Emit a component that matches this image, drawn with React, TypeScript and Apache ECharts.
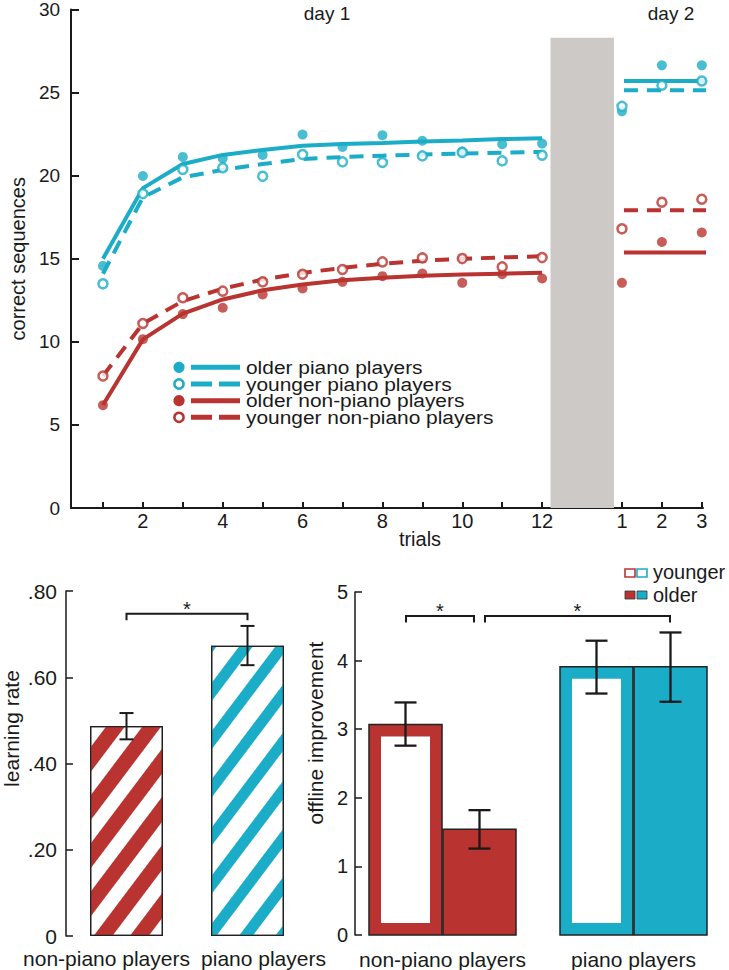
import React, { useEffect, useRef } from 'react';
import * as echarts from 'echarts';

const CYAN = '#1BADC7';
const RED = '#B93430';
const INK = '#1a1a1a';
const GRAY = '#CCC9C7';
const FONT = '"Liberation Sans", Arial, sans-serif';

// ---------- top chart data ----------
const day1Trials = [1, 2, 3, 4, 5, 6, 7, 8, 9, 10, 11, 12];
const day2Sessions = [1, 2, 3];
const DAY2_OFFSET = 13; // axis slot taken by the 24h consolidation gap
const xTickValues = [1, 2, 3, 4, 5, 6, 7, 8, 9, 10, 11, 12, 13, 14, 15, 16];
const xLabelValues = [2, 4, 6, 8, 10, 12, 14, 15, 16];
const yTickValues = [0, 5, 10, 15, 20, 25, 30];

const olderPianoDay1 = [14.57, 19.98, 21.13, 21.03, 21.25, 22.47, 21.73, 22.43, 22.1, 21.45, 21.89, 21.93];
const olderPianoDay2 = [23.87, 26.64, 26.64];
const youngerPianoDay1 = [13.49, 18.92, 20.37, 20.47, 19.96, 21.27, 20.83, 20.79, 21.19, 21.4, 20.89, 21.23];
const youngerPianoDay2 = [24.17, 25.44, 25.7];
const olderNonPianoDay1 = [6.19, 10.16, 11.67, 12.05, 12.85, 13.21, 13.61, 13.95, 14.11, 13.55, 14.07, 13.81];
const olderNonPianoDay2 = [13.55, 16.01, 16.58];
const youngerNonPianoDay1 = [7.94, 11.1, 12.65, 13.05, 13.61, 14.07, 14.35, 14.81, 15.05, 15.01, 14.51, 15.07];
const youngerNonPianoDay2 = [16.8, 18.4, 18.58];

const olderPianoFit = [15.0, 19.25, 20.7, 21.25, 21.55, 21.8, 21.9, 21.97, 22.05, 22.12, 22.2, 22.25];
const youngerPianoFit = [14.1, 18.7, 19.9, 20.35, 20.7, 21.0, 21.12, 21.2, 21.27, 21.33, 21.38, 21.43];
const olderNonPianoFit = [6.2, 10.15, 11.7, 12.55, 13.1, 13.45, 13.7, 13.85, 13.97, 14.05, 14.1, 14.15];
const youngerNonPianoFit = [7.95, 11.1, 12.45, 13.2, 13.75, 14.15, 14.45, 14.7, 14.88, 15.0, 15.08, 15.15];
const olderPianoDay2Fit = 25.7;
const youngerPianoDay2Fit = 25.14;
const olderNonPianoDay2Fit = 15.37;
const youngerNonPianoDay2Fit = 17.92;

const legendNames = ['older piano players', 'younger piano players', 'older non-piano players', 'younger non-piano players'];

// ---------- bottom charts data ----------
const groups = ['non-piano players', 'piano players'];
const learningRate = [0.487, 0.673];
const learningRateErr = [[0.456, 0.517], [0.628, 0.719]];
const learningBracketY = 0.747;

const offlineYounger = [3.07, 3.91];
const offlineOlder = [1.54, 3.91];
const offlineYoungerErr = [[2.76, 3.39], [3.52, 4.29]];
const offlineOlderErr = [[1.26, 1.82], [3.40, 4.41]];
const offlineBracketY = 4.65;

const groupColors = [RED, CYAN];

function buildOption() {
  const topGroups = [
    { color: CYAN, open: false, d1: olderPianoDay1, d2: olderPianoDay2, fit: olderPianoFit, fit2: olderPianoDay2Fit },
    { color: CYAN, open: true, d1: youngerPianoDay1, d2: youngerPianoDay2, fit: youngerPianoFit, fit2: youngerPianoDay2Fit },
    { color: RED, open: false, d1: olderNonPianoDay1, d2: olderNonPianoDay2, fit: olderNonPianoFit, fit2: olderNonPianoDay2Fit },
    { color: RED, open: true, d1: youngerNonPianoDay1, d2: youngerNonPianoDay2, fit: youngerNonPianoFit, fit2: youngerNonPianoDay2Fit },
  ];

  const series: any[] = [];

  // consolidation band
  series.push({
    type: 'line', xAxisIndex: 0, yAxisIndex: 0, data: [], silent: true, z: 1,
    markArea: {
      silent: true,
      itemStyle: { color: GRAY },
      data: [[{ xAxis: 12.21, yAxis: 0 }, { xAxis: 13.8, yAxis: 28.3 }]],
    },
  });

  topGroups.forEach((g) => {
    series.push({
      type: 'line', xAxisIndex: 0, yAxisIndex: 0, symbol: 'none', clip: false, z: 2,
      connectNulls: false,
      lineStyle: { color: g.color, width: 4, type: g.open ? [14, 9] : 'solid', cap: 'butt' },
      data: [
        ...day1Trials.map((t, i) => [t, g.fit[i]]),
        [DAY2_OFFSET, null],
        [DAY2_OFFSET + day2Sessions[0] + 0.05, g.fit2],
        [DAY2_OFFSET + day2Sessions[2] + 0.15, g.fit2],
      ],
    });
  });

  topGroups.forEach((g) => {
    series.push({
      type: 'scatter', xAxisIndex: 0, yAxisIndex: 0, z: 3,
      symbol: 'circle', symbolSize: g.open ? 9 : 10,
      itemStyle: g.open
        ? { color: '#ffffff', borderColor: g.color, borderWidth: 2.5 }
        : { color: g.color },
      data: [
        ...day1Trials.map((t, i) => [t, g.d1[i]]),
        ...day2Sessions.map((s, i) => [DAY2_OFFSET + s, g.d2[i]]),
      ],
    });
  });

  // ---- bottom-left: learning rate (striped bars)
  series.push({
    type: 'bar', xAxisIndex: 1, yAxisIndex: 1, barWidth: 73, z: 2,
    data: learningRate.map((v, i) => ({
      value: v,
      itemStyle: {
        color: '#ffffff',
        borderColor: '#222',
        borderWidth: 1.3,
        decal: {
          symbol: 'rect',
          symbolSize: 1,
          dashArrayX: [1, 0],
          dashArrayY: i === 0 ? [15, 14] : [11, 18],
          rotation: (-53 * Math.PI) / 180,
          color: groupColors[i],
        },
      },
    })),
  });

  const errorBars = (xi: number, yi: number, data: number[][], offset: number, capW: number, lw: number) => ({
    type: 'custom', xAxisIndex: xi, yAxisIndex: yi, z: 10, silent: true,
    data: data.map((d, i) => [i, d[0], d[1]]),
    renderItem: (_p: any, api: any) => {
      const lo = api.coord([api.value(0), api.value(1)]);
      const hi = api.coord([api.value(0), api.value(2)]);
      const x = lo[0] + offset;
      const style = { stroke: INK, lineWidth: lw };
      return {
        type: 'group',
        children: [
          { type: 'line', shape: { x1: x, y1: lo[1], x2: x, y2: hi[1] }, style },
          { type: 'line', shape: { x1: x - capW / 2, y1: lo[1], x2: x + capW / 2, y2: lo[1] }, style },
          { type: 'line', shape: { x1: x - capW / 2, y1: hi[1], x2: x + capW / 2, y2: hi[1] }, style },
        ],
      };
    },
  });

  series.push(errorBars(1, 1, learningRateErr, 0, 14, 2));

  const bracketSeries = (xi: number, yi: number, data: number[][], offsets: number[][]) => ({
    type: 'custom', xAxisIndex: xi, yAxisIndex: yi, z: 10, silent: true, clip: false,
    data,
    renderItem: (p: any, api: any) => {
      const a = api.coord([api.value(0), api.value(2)]);
      const b = api.coord([api.value(1), api.value(2)]);
      const off = offsets[p.dataIndex];
      const x1 = a[0] + off[0];
      const x2 = b[0] + off[1];
      const y = a[1];
      return {
        type: 'group',
        children: [
          {
            type: 'polyline',
            shape: { points: [[x1, y + 6.5], [x1, y], [x2, y], [x2, y + 6.5]] },
            style: { stroke: INK, lineWidth: 2, fill: 'none' },
          },
          {
            type: 'text',
            style: {
              text: '*', x: (x1 + x2) / 2, y: y - 5, align: 'center', verticalAlign: 'middle',
              fontSize: 20, fontFamily: FONT, fill: INK,
            },
          },
        ],
      };
    },
  });

  series.push(bracketSeries(1, 1, [[0, 1, learningBracketY]], [[0, 0]]));

  // ---- bottom-right: offline improvement
  const BW = 73;
  const barSeries = (values: number[], offset: number, younger: boolean) => ({
    type: 'custom', xAxisIndex: 2, yAxisIndex: 2, z: 2, silent: true,
    data: values.map((v, i) => [i, v]),
    renderItem: (_p: any, api: any) => {
      const cat = api.value(0);
      const top = api.coord([cat, api.value(1)]);
      const base = api.coord([cat, 0]);
      const x = top[0] + offset - BW / 2;
      const h = base[1] - top[1];
      const col = groupColors[cat];
      const children: any[] = [
        { type: 'rect', shape: { x, y: top[1], width: BW, height: h }, style: { fill: col, stroke: '#222', lineWidth: 1.5 } },
      ];
      if (younger) {
        children.push({ type: 'rect', shape: { x: x + 12, y: top[1] + 12, width: BW - 24, height: h - 24 }, style: { fill: '#ffffff' } });
      }
      return { type: 'group', children };
    },
  });
  series.push(barSeries(offlineYounger, -37, true));
  series.push(barSeries(offlineOlder, 37, false));
  series.push(errorBars(2, 2, offlineYoungerErr, -37, 22, 2.3));
  series.push(errorBars(2, 2, offlineOlderErr, 37, 22, 2.3));
  series.push(bracketSeries(2, 2, [[0, 0, offlineBracketY], [0, 1, offlineBracketY]], [[-36.5, 31.5], [42.5, 36.5]]));

  // ---- graphic: legends and annotations
  const legendRows = [367.3, 384, 400.7, 417.3];
  const legendGraphic: any[] = [];
  topGroups.forEach((g, i) => {
    const y = legendRows[i];
    legendGraphic.push(
      g.open
        ? { type: 'circle', shape: { cx: 179, cy: y, r: 4.6 }, style: { fill: '#fff', stroke: g.color, lineWidth: 2.5 } }
        : { type: 'circle', shape: { cx: 179, cy: y, r: 5.6 }, style: { fill: g.color } }
    );
    legendGraphic.push({
      type: 'line', shape: { x1: 191, y1: y, x2: 240, y2: y },
      style: { stroke: g.color, lineWidth: 5, lineDash: g.open ? [21, 7] : null },
    });
    legendGraphic.push({
      type: 'text', x: 246, y, scaleX: 1.1,
      style: { text: legendNames[i], fontSize: 19, fontFamily: FONT, fill: INK, verticalAlign: 'middle', align: 'left' },
    });
  });

  const textG = (text: string, x: number, y: number, fontSize: number, extra: any = {}) => ({
    type: 'text', x, y, ...extra,
    style: { text, fontSize, fontFamily: FONT, fill: INK, align: 'center', verticalAlign: 'middle' },
  });

  const ageLegend: any[] = [
    { type: 'rect', shape: { x: 625, y: 569, width: 10, height: 8 }, style: { fill: '#fff', stroke: RED, lineWidth: 1.6 } },
    { type: 'rect', shape: { x: 637, y: 569, width: 10, height: 8 }, style: { fill: '#fff', stroke: CYAN, lineWidth: 1.6 } },
    { type: 'rect', shape: { x: 625, y: 591, width: 10, height: 8 }, style: { fill: RED, stroke: '#333', lineWidth: 0.8 } },
    { type: 'rect', shape: { x: 637, y: 591, width: 10, height: 8 }, style: { fill: CYAN, stroke: '#333', lineWidth: 0.8 } },
    { type: 'text', x: 653, y: 572, style: { text: 'younger', fontSize: 20, fontFamily: FONT, fill: INK, verticalAlign: 'middle', align: 'left' } },
    { type: 'text', x: 653, y: 595, style: { text: 'older', fontSize: 20, fontFamily: FONT, fill: INK, verticalAlign: 'middle', align: 'left' } },
  ];

  const axisLine = (w: number) => ({ show: true, lineStyle: { color: INK, width: w } });

  return {
    animation: false,
    backgroundColor: '#ffffff',
    textStyle: { fontFamily: FONT },
    grid: [
      { left: 64, right: 26, top: 9, bottom: 462 },
      { left: 64, width: 244, top: 591, bottom: 34 },
      { left: 347, width: 388, top: 592, bottom: 33 },
    ],
    xAxis: [
      {
        type: 'value', gridIndex: 0, min: 0.2, max: 16.03,
        axisLine: axisLine(2),
        splitLine: { show: false },
        axisTick: { show: true, inside: true, length: 6, lineStyle: { color: INK, width: 2 }, customValues: xTickValues },
        axisLabel: {
          customValues: xLabelValues, margin: 3, fontSize: 20, color: INK, fontFamily: FONT,
          formatter: (v: number) => String(v > DAY2_OFFSET ? v - DAY2_OFFSET : v),
        },
      },
      {
        type: 'category', gridIndex: 1,
        data: [
          { value: groups[0], textStyle: { padding: [0, 40, 0, 0] } },
          { value: groups[1], textStyle: { padding: [0, 0, 0, 32] } },
        ],
        axisLine: { show: false }, axisTick: { show: false },
        axisLabel: { fontSize: 21, color: INK, margin: 12, fontFamily: FONT, interval: 0 },
      },
      {
        type: 'category', gridIndex: 2, data: groups,
        axisLine: { show: false }, axisTick: { show: false },
        axisLabel: { fontSize: 21, color: INK, margin: 14, fontFamily: FONT, interval: 0 },
      },
    ],
    yAxis: [
      {
        type: 'value', gridIndex: 0, min: 0, max: 30, interval: 5,
        name: 'correct sequences', nameLocation: 'middle', nameGap: 38,
        nameTextStyle: { fontSize: 20, color: INK, fontFamily: FONT },
        axisLine: axisLine(2), splitLine: { show: false },
        axisTick: { show: true, inside: true, length: 8, lineStyle: { color: INK, width: 2 }, customValues: yTickValues },
        axisLabel: { fontSize: 19, color: INK, margin: 11, fontFamily: FONT },
      },
      {
        type: 'value', gridIndex: 1, min: 0, max: 0.8, interval: 0.2,
        name: 'learning rate', nameLocation: 'middle', nameGap: 44,
        nameTextStyle: { fontSize: 21, color: INK, fontFamily: FONT, padding: [0, 0, 0, 70] },
        axisLine: axisLine(1.5), splitLine: { show: false },
        axisTick: { show: true, inside: true, length: 7, lineStyle: { color: INK, width: 1.5 } },
        axisLabel: {
          fontSize: 21, color: INK, margin: 9, fontFamily: FONT,
          formatter: (v: number) => (v === 0 ? '0' : v.toFixed(2).replace(/^0/, '')),
        },
      },
      {
        type: 'value', gridIndex: 2, min: 0, max: 5, interval: 1, offset: -8,
        name: 'offline improvement', nameLocation: 'middle', nameGap: 26,
        nameTextStyle: { fontSize: 21, color: INK, fontFamily: FONT, padding: [0, 0, 0, 61] },
        axisLine: axisLine(1.5), splitLine: { show: false },
        axisTick: { show: true, inside: true, length: 7, lineStyle: { color: INK, width: 1.5 } },
        axisLabel: { fontSize: 20, color: INK, margin: 7, fontFamily: FONT },
      },
    ],
    series,
    graphic: [
      ...legendGraphic,
      textG('day 1', 327, 13, 19),
      textG('day 2', 671, 13, 19),
      textG('trials', 420, 539, 20),
      textG('24h  offline consolidation', 582, 273, 19, { rotation: -Math.PI / 2 }),
      ...ageLegend,
    ],
  };
}

export default function App() {
  const ref = useRef<HTMLDivElement>(null);
  useEffect(() => {
    if (!ref.current) return;
    const chart = echarts.init(ref.current, undefined, { renderer: 'svg' });
    chart.setOption(buildOption() as any);
    return () => chart.dispose();
  }, []);
  return <div ref={ref} style={{ position: 'absolute', left: 0, top: 0, width: 729, height: 970 }} />;
}
